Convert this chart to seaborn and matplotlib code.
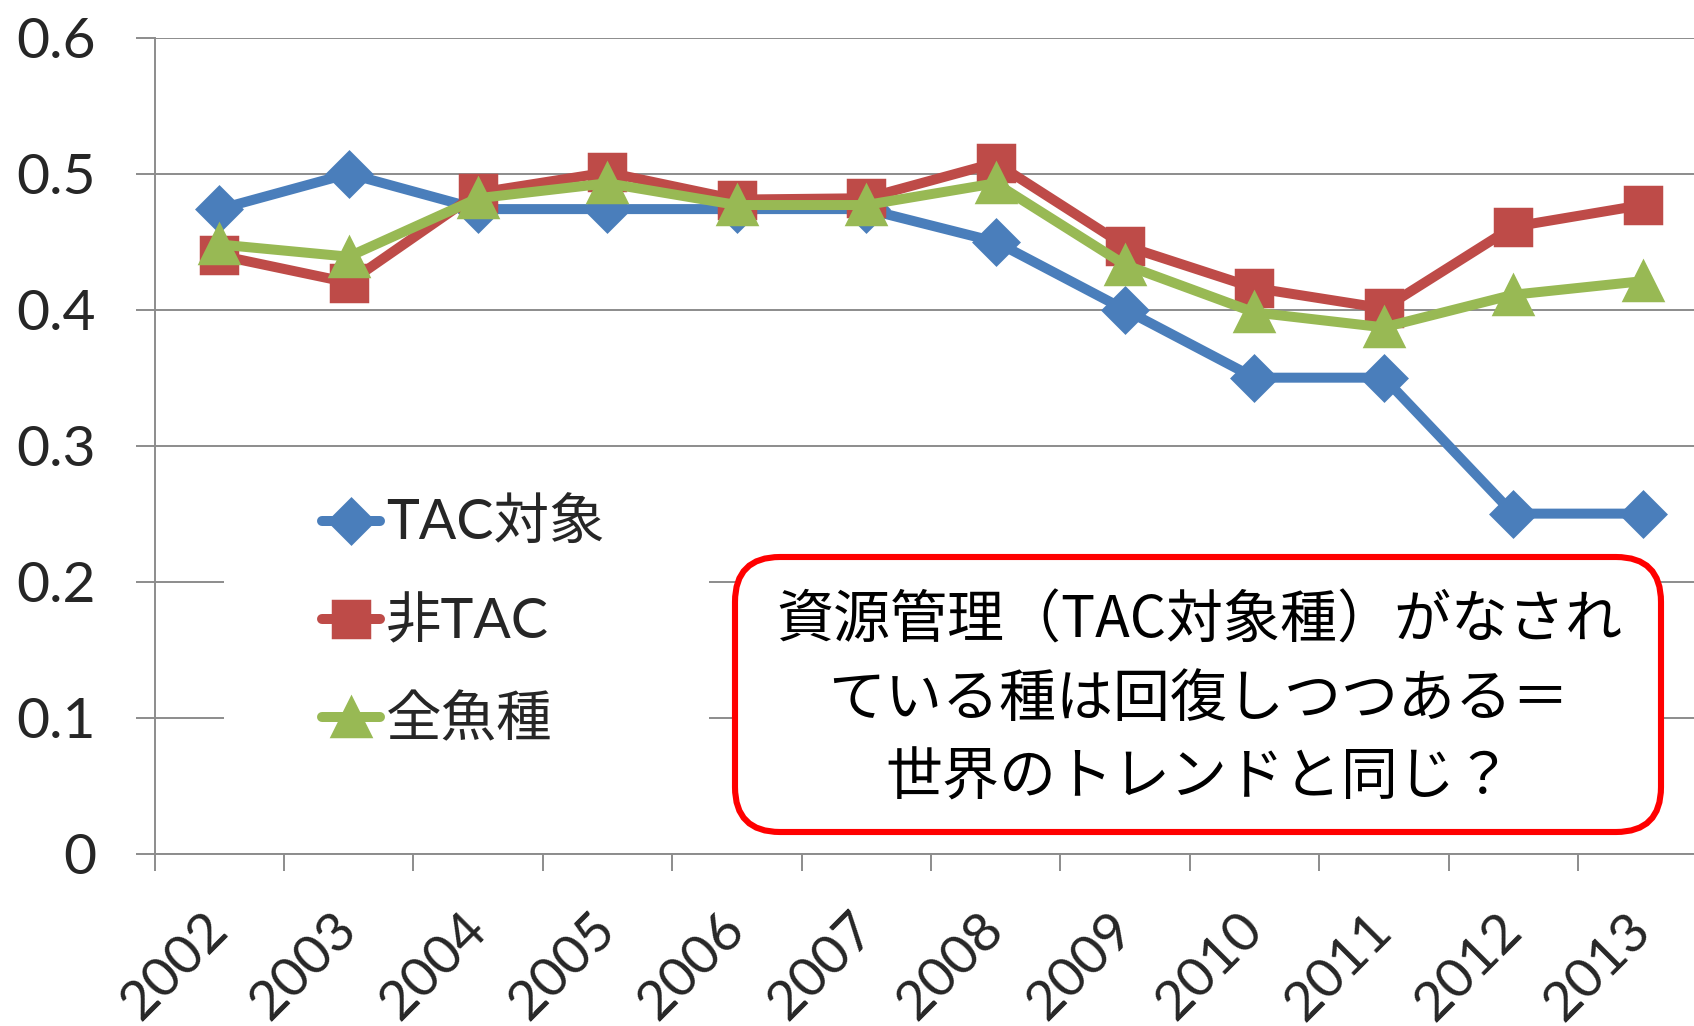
import matplotlib
matplotlib.use("Agg")
import matplotlib.pyplot as plt
import seaborn as sns
import pandas as pd
from matplotlib.patches import FancyBboxPatch, Rectangle
from matplotlib.ticker import FixedLocator

# ---- data ----
years = ["2002", "2003", "2004", "2005", "2006", "2007",
         "2008", "2009", "2010", "2011", "2012", "2013"]
tac_target = [0.474, 0.500, 0.474, 0.474, 0.474, 0.474,
              0.450, 0.400, 0.350, 0.350, 0.250, 0.250]
non_tac = [0.440, 0.420, 0.486, 0.501, 0.481, 0.482,
           0.508, 0.447, 0.416, 0.401, 0.461, 0.477]
all_species = [0.448, 0.439, 0.482, 0.493, 0.477, 0.477,
               0.493, 0.433, 0.398, 0.387, 0.411, 0.421]
series_names = ["TAC対象", "非TAC", "全魚種"]
ytick_vals = [0, 0.1, 0.2, 0.3, 0.4, 0.5, 0.6]
ytick_labels = ["0", "0.1", "0.2", "0.3", "0.4", "0.5", "0.6"]
note_lines = ["資源管理（TAC対象種）がなされ",
              "ている種は回復しつつある＝",
              "世界のトレンドと同じ？"]

df = pd.DataFrame({"year": years, series_names[0]: tac_target,
                   series_names[1]: non_tac, series_names[2]: all_species})

sns.set_theme(style="white")
plt.rcParams["font.family"] = ["Lato", "Noto Sans CJK JP", "DejaVu Sans"]

W, H = 1694, 1026
fig = plt.figure(figsize=(W / 100, H / 100), dpi=100)
fig.patch.set_facecolor("white")

ax_left, ax_right = 154.5, W
y0_px, y6_px = 853.5, 37.8
ax = fig.add_axes([ax_left / W, 1 - y0_px / H, (ax_right - ax_left) / W, (y0_px - y6_px) / H])

blue, red, green = "#4A7EBB", "#BE4B48", "#98B954"
grey = "#8C8C8C"

styles = [
    (series_names[0], blue, "D", 22),
    (series_names[1], red, "s", 26),
    (series_names[2], green, "^", 28),
]
for i, (name, col, mk, ms) in enumerate(styles):
    sns.lineplot(data=df, x="year", y=name, ax=ax, color=col, marker=mk,
                 markersize=ms, markeredgecolor=col, markeredgewidth=2.5,
                 linewidth=7.2, sort=False, legend=False, label=name,
                 zorder=3 + i, solid_joinstyle="round")

# category axis
ncat = len(years)
cat_w = 129.4
ax.set_xlim(-0.5, -0.5 + (ax_right - ax_left) / cat_w)
ax.set_ylim(0, 0.6)
ax.xaxis.set_major_locator(FixedLocator(range(ncat)))
ax.set_xticklabels(years)
ax.xaxis.set_minor_locator(FixedLocator([k - 0.5 for k in range(ncat + 1)]))
ax.tick_params(axis="x", which="major", length=0, pad=49, labelsize=39.5)
ax.tick_params(axis="x", which="minor", length=12.4, width=1.4, color=grey, direction="out", bottom=True)
for lab in ax.get_xticklabels():
    lab.set_rotation(45)
    lab.set_ha("right")
    lab.set_va("center")
    lab.set_rotation_mode("anchor")

ax.set_yticks(ytick_vals)
ax.set_yticklabels(ytick_labels)
ax.tick_params(axis="y", which="major", length=14, width=1.4, color=grey, direction="out",
               left=True, pad=28, labelsize=41)
ax.set_xlabel("")
ax.set_ylabel("")
ax.yaxis.grid(True, color=grey, linewidth=1.4)
ax.xaxis.grid(False)
ax.set_axisbelow(True)
for s in ["top", "right"]:
    ax.spines[s].set_visible(False)
for s in ["left", "bottom"]:
    ax.spines[s].set_color(grey)
    ax.spines[s].set_linewidth(1.4)

# white area behind legend (covers gridlines)
ax.add_patch(Rectangle((2.24, (H - 765) / 100), 4.85, 3.0, transform=fig.dpi_scale_trans,
                       facecolor="white", edgecolor="none", zorder=1))

handles = ax.get_lines()[:3]
leg = ax.legend(handles=handles, labels=series_names, loc="upper left",
                bbox_to_anchor=(322 / W, 1 - 499 / H), bbox_transform=fig.transFigure,
                frameon=False, fontsize=40, handlelength=1.05, handletextpad=0.1,
                labelspacing=0.84, borderpad=0, borderaxespad=0)
leg.set_zorder(10)

# annotation box
bx0, bx1, by0, by1 = 735, 1661, 557, 832
box = FancyBboxPatch((bx0 / 100, (H - by1) / 100), (bx1 - bx0) / 100, (by1 - by0) / 100,
                     boxstyle="round,pad=0,rounding_size=0.45", transform=fig.dpi_scale_trans,
                     facecolor="white", edgecolor="#FF0000", linewidth=4.4, zorder=20)
fig.add_artist(box)
for yy, line in zip([621, 700, 778], note_lines):
    fig.text(1199 / W, 1 - yy / H, line, ha="center", va="center", fontsize=41,
             family=["Noto Sans CJK JP", "DejaVu Sans"], color="black", zorder=21)

fig.savefig("out.png", dpi=100, facecolor="white")
